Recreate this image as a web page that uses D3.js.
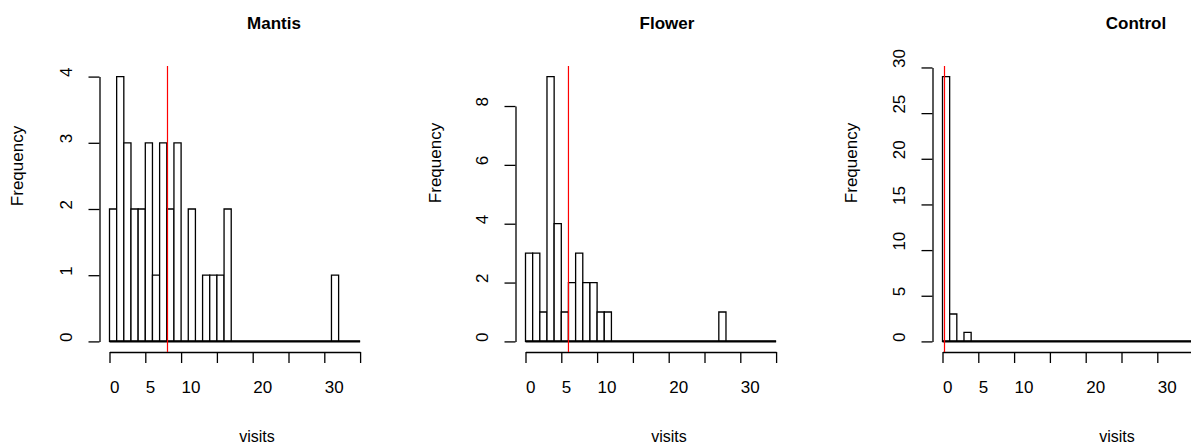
<!DOCTYPE html>
<html>
<head>
<meta charset="utf-8">
<script src="https://cdn.jsdelivr.net/npm/d3@7"></script>
<style>
  body { margin: 0; background: #fff; }
  svg { display: block; font-family: "Liberation Sans", Arial, sans-serif; }
</style>
</head>
<body>
<div id="chart"></div>
<script>
// data: histogram counts per 1-visit bin, bins [0,1), [1,2) ... [34,35)
const titles = ["Mantis", "Flower", "Control"];
const binEdges = d3.range(0, 36);
const mantisCounts = [2, 4, 3, 2, 2, 3, 1, 3, 2, 3, 0, 2, 0, 1, 1, 1, 2,
  0, 0, 0, 0, 0, 0, 0, 0, 0, 0, 0, 0, 0, 0, 1, 0, 0, 0];
const flowerCounts = [3, 3, 1, 9, 4, 1, 2, 3, 2, 2, 1, 1,
  0, 0, 0, 0, 0, 0, 0, 0, 0, 0, 0, 0, 0, 0, 0, 1, 0, 0, 0, 0, 0, 0, 0];
const controlCounts = [29, 3, 0, 1,
  0, 0, 0, 0, 0, 0, 0, 0, 0, 0, 0, 0, 0, 0, 0, 0, 0, 0, 0, 0, 0, 0, 0, 0, 0, 0, 0, 0, 0, 0, 0];
const means = [8.1, 6.0, 0.28];
const xTicks = [0, 5, 10, 15, 20, 25, 30, 35];
const xTickLabels = { 0: "0", 5: "5", 10: "10", 20: "20", 30: "30" };
const yTicks = [[0, 1, 2, 3, 4], [0, 2, 4, 6, 8], [0, 5, 10, 15, 20, 25, 30]];

const allCounts = [mantisCounts, flowerCounts, controlCounts];

const width = 1191, height = 446;
const plotTop = 66, plotBottom = 352;
// left edge (y axis) of each panel and label placement
const panels = [
  { left: 99.5, titleX: 274, xlabX: 257, ylabX: 23, ylabY: 166 },
  { left: 515.5, titleX: 667, xlabX: 669, ylabX: 441, ylabY: 163 },
  { left: 932.5, titleX: 1136, xlabX: 1117, ylabX: 857, ylabY: 163 }
];
const unit = 7.16;

const svg = d3.select("#chart")
  .append("svg")
  .attr("width", width)
  .attr("height", height);

panels.forEach((p, i) => {
  const counts = allCounts[i];
  const maxC = d3.max(counts);

  const x = d3.scaleLinear()
    .domain([0, 35])
    .range([p.left + 10, p.left + 10 + 35 * unit]);

  const y = d3.scaleLinear()
    .domain([-0.04 * maxC, 1.04 * maxC])
    .range([plotBottom, plotTop]);

  const g = svg.append("g");

  // bars (zero bins drawn as flat outlines like R does)
  const bins = counts.map((c, k) => ({ x0: binEdges[k], x1: binEdges[k + 1], c: c }));
  g.selectAll(".bar")
    .data(bins)
    .enter()
    .append("path")
    .attr("class", "bar")
    .attr("d", d => `M${x(d.x0)},${y(0)}V${y(d.c)}H${x(d.x1)}V${y(0)}Z`)
    .attr("fill", "#fff")
    .attr("stroke", "#000")
    .attr("stroke-width", 1.3);

  // doubled outline along the bottom of the bins
  g.append("line")
    .attr("x1", x(binEdges[0]))
    .attr("x2", x(binEdges[binEdges.length - 1]))
    .attr("y1", y(0))
    .attr("y2", y(0))
    .attr("stroke", "#000")
    .attr("stroke-width", 2.2);

  // x axis
  const xAxis = g.append("g")
    .attr("transform", `translate(0,${plotBottom})`)
    .call(d3.axisBottom(x).tickValues(xTicks).tickSize(11).tickSizeOuter(0)
      .tickFormat(d => xTickLabels[d] || ""));
  xAxis.select(".domain").attr("stroke", "#000").attr("stroke-width", 1.3);
  xAxis.selectAll(".tick line").attr("stroke", "#000").attr("stroke-width", 1.3);
  xAxis.selectAll(".tick text")
    .attr("text-anchor", "start")
    .attr("x", 0)
    .attr("y", 41)
    .attr("dy", 0)
    .style("font-size", "17px")
    .attr("fill", "#000");

  // y axis, drawn only between first and last tick
  const yt = yTicks[i];
  const yAxisScale = y.copy()
    .domain([yt[0], yt[yt.length - 1]])
    .range([y(yt[0]), y(yt[yt.length - 1])]);
  const yAxis = g.append("g")
    .attr("transform", `translate(${p.left},0)`)
    .call(d3.axisLeft(yAxisScale).tickValues(yt).tickSize(11).tickSizeOuter(0)
      .tickFormat(d3.format("d")));
  yAxis.select(".domain").attr("stroke", "#000").attr("stroke-width", 1.3);
  yAxis.selectAll(".tick line").attr("stroke", "#000").attr("stroke-width", 1.3);
  yAxis.selectAll(".tick text")
    .attr("text-anchor", "start")
    .attr("transform", "rotate(-90)")
    .attr("x", 0)
    .attr("y", -28)
    .attr("dy", 0)
    .style("font-size", "17px")
    .attr("fill", "#000");

  // mean line
  g.append("line")
    .attr("x1", x(means[i]))
    .attr("x2", x(means[i]))
    .attr("y1", plotTop)
    .attr("y2", plotBottom)
    .attr("stroke", "red")
    .attr("stroke-width", 1.2);

  // titles and axis labels
  svg.append("text")
    .attr("x", p.titleX)
    .attr("y", 29)
    .attr("text-anchor", "middle")
    .style("font-size", "17px")
    .style("font-weight", "bold")
    .text(titles[i]);

  svg.append("text")
    .attr("x", p.xlabX)
    .attr("y", 442)
    .attr("text-anchor", "middle")
    .style("font-size", "16px")
    .text("visits");

  svg.append("text")
    .attr("transform", `translate(${p.ylabX},${p.ylabY}) rotate(-90)`)
    .attr("text-anchor", "middle")
    .style("font-size", "17px")
    .text("Frequency");
});
</script>
</body>
</html>
